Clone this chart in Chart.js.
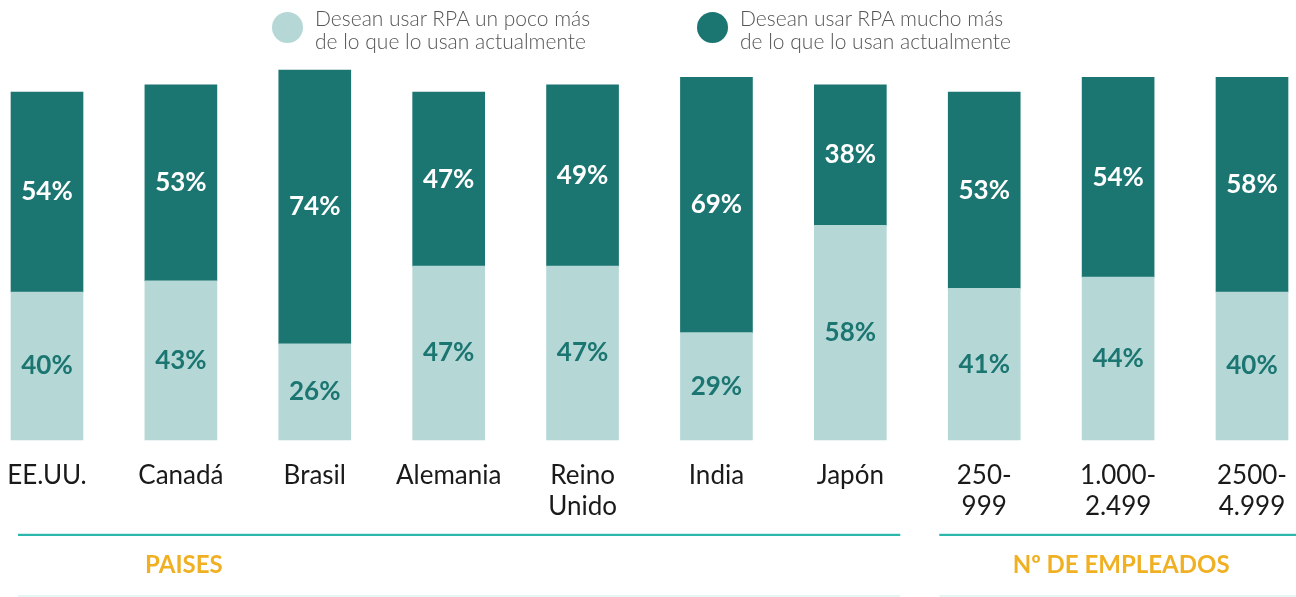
<!DOCTYPE html>
<html>
<head>
<meta charset="utf-8">
<script src="https://cdn.jsdelivr.net/npm/chart.js@4"></script>
<style>
  html, body { margin: 0; padding: 0; background: #fff; }
  #wrap { position: relative; width: 1296px; height: 597px; }
  #chart { position: absolute; left: 0; top: 0; }
  .legend-item { position: absolute; top: 6px; display: flex; align-items: flex-start; font-family: Lato, sans-serif; font-weight: 300; font-size: 21px; line-height: 23px; color: #555; }
  .legend-item .dot { width: 31px; height: 31px; border-radius: 50%; margin-right: 12px; margin-top: 6px; flex: none; }
</style>
</head>
<body>
<div id="wrap">
  <canvas id="chart" width="1296" height="597"></canvas>
  <div id="legend"></div>
</div>
<script>
// Data
const categories = [
  'EE.UU.', 'Canadá', 'Brasil', 'Alemania', ['Reino', 'Unido'],
  'India', 'Japón', ['250-', '999'], ['1.000-', '2.499'], ['2500-', '4.999']
];
const pocoMas = [40, 43, 26, 47, 47, 29, 58, 41, 44, 40];
const muchoMas = [54, 53, 74, 47, 49, 69, 38, 53, 54, 58];
const seriesNames = [
  ['Desean usar RPA un poco más', 'de lo que lo usan actualmente'],
  ['Desean usar RPA mucho más', 'de lo que lo usan actualmente']
];
// group label, first index, last index, index where the label sits
const groups = [
  { label: 'PAISES', from: 0, to: 6, at: 1 },
  { label: 'Nº DE EMPLEADOS', from: 7, to: 9, at: 8 }
];

const lightColor = '#b5d8d7';
const darkColor = '#1b7571';

// HTML legend
const legendLeft = [272, 697];
const legendEl = document.getElementById('legend');
[lightColor, darkColor].forEach((c, i) => {
  const item = document.createElement('div');
  item.className = 'legend-item';
  item.style.left = legendLeft[i] + 'px';
  item.innerHTML = `<span class="dot" style="background:${c}"></span><span>${seriesNames[i][0]}<br>${seriesNames[i][1]}</span>`;
  legendEl.appendChild(item);
});

// Percent labels inside bars
const barLabels = {
  id: 'barLabels',
  afterDatasetsDraw(chart) {
    const ctx = chart.ctx;
    ctx.save();
    ctx.font = 'bold 26px Lato, sans-serif';
    ctx.textAlign = 'center';
    ctx.textBaseline = 'middle';
    chart.data.datasets.forEach((ds, di) => {
      const meta = chart.getDatasetMeta(di);
      ctx.fillStyle = di === 0 ? '#1b7571' : '#ffffff';
      meta.data.forEach((bar, i) => {
        const p = bar.getProps(['x', 'y', 'base'], true);
        ctx.fillText(ds.data[i] + '%', p.x, (p.y + p.base) / 2);
      });
    });
    ctx.restore();
  }
};

// Group lines and titles under the axis
const groupLabels = {
  id: 'groupLabels',
  afterDraw(chart) {
    const ctx = chart.ctx;
    const x = chart.scales.x;
    ctx.save();
    groups.forEach((g, gi) => {
      const prev = groups[gi - 1], next = groups[gi + 1];
      const x0 = prev
        ? (x.getPixelForValue(prev.to) + x.getPixelForValue(g.from)) / 2 + 22
        : x.getPixelForValue(g.from) - 29;
      const x1 = next
        ? (x.getPixelForValue(g.to) + x.getPixelForValue(next.from)) / 2 - 17
        : chart.width;
      ctx.fillStyle = '#2bb8ac';
      ctx.fillRect(x0, 534, x1 - x0, 2);
      ctx.fillStyle = '#d4eeee';
      ctx.fillRect(x0, 533, x1 - x0, 1);
      ctx.fillStyle = '#e6f6f6';
      ctx.fillRect(x0, 595, x1 - x0, 2);
      ctx.fillStyle = '#f0b024';
      ctx.font = 'bold 24px Lato, sans-serif';
      ctx.textAlign = 'center';
      ctx.textBaseline = 'middle';
      ctx.fillText(g.label, x.getPixelForValue(g.at) + 3, 565);
    });
    ctx.restore();
  }
};

new Chart(document.getElementById('chart'), {
  type: 'bar',
  data: {
    labels: categories,
    datasets: [
      { label: seriesNames[0].join(' '), data: pocoMas, backgroundColor: lightColor, barThickness: 72, clip: false },
      { label: seriesNames[1].join(' '), data: muchoMas, backgroundColor: darkColor, barThickness: 72, clip: false }
    ]
  },
  options: {
    responsive: false,
    animation: false,
    events: [],
    layout: { padding: { left: 47, right: 44, top: 70, bottom: 0 } },
    plugins: { legend: { display: false }, tooltip: { enabled: false } },
    scales: {
      x: {
        stacked: true,
        offset: false,
        grid: { display: false, offset: false },
        border: { display: false },
        ticks: {
          color: '#1a1a1a',
          font: { family: 'Lato, sans-serif', size: 26, lineHeight: 1.2 },
          padding: 12,
          maxRotation: 0,
          autoSkip: false
        },
        afterFit(axis) {
          axis.height = 157;
          axis.paddingLeft = 0;
          axis.paddingRight = 0;
        }
      },
      y: {
        stacked: true,
        display: false,
        min: 0,
        max: 100
      }
    }
  },
  plugins: [barLabels, groupLabels]
});
</script>
</body>
</html>
